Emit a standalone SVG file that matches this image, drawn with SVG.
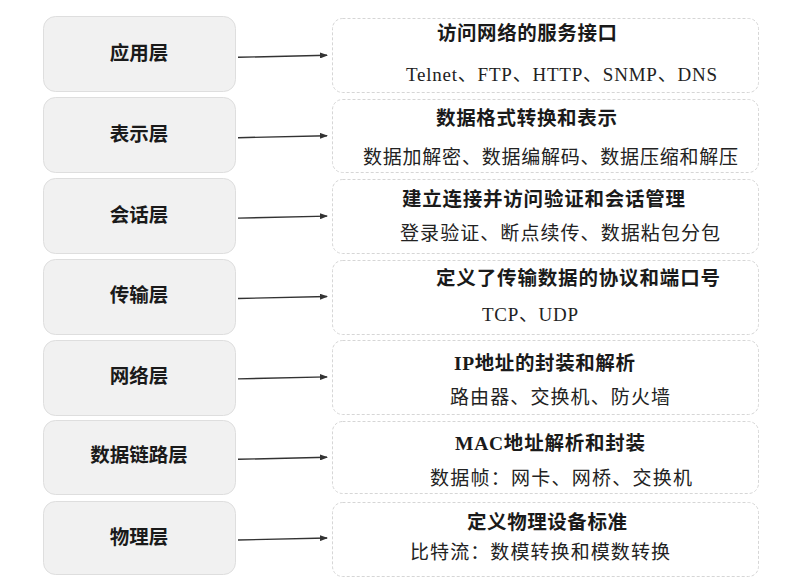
<svg xmlns="http://www.w3.org/2000/svg" width="793" height="586" viewBox="0 0 793 586">
<style>
.lb{fill:#f1f1f1;stroke:#dedede;stroke-width:1}
.rb{fill:#ffffff;stroke:#d6d6d6;stroke-width:1;stroke-dasharray:3 2}
.lt{font-family:"Liberation Sans","Noto Sans CJK SC",sans-serif;font-weight:bold;font-size:19.5px;fill:#1a1a1a;text-anchor:middle}
.tt{font-family:"Liberation Serif","Noto Sans CJK SC",serif;font-weight:bold;font-size:19.5px;fill:#1a1a1a}
.st{font-family:"Liberation Serif","Noto Sans CJK SC",serif;font-size:19px;fill:#222}
.ar{stroke:#333;stroke-width:1.4;fill:none}
</style>
<defs>
<marker id="ah" markerWidth="8" markerHeight="6" refX="7" refY="3" orient="auto" markerUnits="userSpaceOnUse">
<path d="M0,0 L8,3 L0,6 z" fill="#333"/>
</marker>
</defs>
<rect width="793" height="586" fill="#ffffff"/>
<g id="l1"><rect class="lb" x="43.5" y="16.5" width="192" height="75" rx="12"/><text class="lt" x="139" y="60">应用层</text></g>
<g id="l2"><rect class="lb" x="43.5" y="97.5" width="192" height="75" rx="12"/><text class="lt" x="139" y="141">表示层</text></g>
<g id="l3"><rect class="lb" x="43.5" y="178.5" width="192" height="75" rx="12"/><text class="lt" x="139" y="222">会话层</text></g>
<g id="l4"><rect class="lb" x="43.5" y="259.5" width="192" height="75" rx="12"/><text class="lt" x="139" y="302">传输层</text></g>
<g id="l5"><rect class="lb" x="43.5" y="340.5" width="192" height="75" rx="12"/><text class="lt" x="139" y="383">网络层</text></g>
<g id="l6"><rect class="lb" x="43.5" y="420.5" width="192" height="74" rx="12"/><text class="lt" x="139" y="462">数据链路层</text></g>
<g id="l7"><rect class="lb" x="43.5" y="501.5" width="192" height="73" rx="12"/><text class="lt" x="139" y="544">物理层</text></g>

<g id="r1"><rect class="rb" x="332.5" y="18.5" width="426" height="74" rx="10"/>
<text class="tt" x="437" y="40" textLength="180">访问网络的服务接口</text>
<text class="st" x="406" y="81" textLength="311">Telnet、FTP、HTTP、SNMP、DNS</text></g>
<g id="r2"><rect class="rb" x="332.5" y="99.5" width="426" height="73" rx="10"/>
<text class="tt" x="436" y="125" textLength="181">数据格式转换和表示</text>
<text class="st" x="363" y="164" textLength="375">数据加解密、数据编解码、数据压缩和解压</text></g>
<g id="r3"><rect class="rb" x="332.5" y="179.5" width="426" height="74" rx="10"/>
<text class="tt" x="402" y="206" textLength="283">建立连接并访问验证和会话管理</text>
<text class="st" x="400" y="240" textLength="320">登录验证、断点续传、数据粘包分包</text></g>
<g id="r4"><rect class="rb" x="332.5" y="260.5" width="426" height="74" rx="10"/>
<text class="tt" x="436" y="285" textLength="284">定义了传输数据的协议和端口号</text>
<text class="st" x="482" y="321" textLength="96">TCP、UDP</text></g>
<g id="r5"><rect class="rb" x="332.5" y="340.5" width="426" height="74" rx="10"/>
<text class="tt" x="454" y="370" textLength="181">IP地址的封装和解析</text>
<text class="st" x="450" y="404" textLength="220">路由器、交换机、防火墙</text></g>
<g id="r6"><rect class="rb" x="332.5" y="421.5" width="426" height="72" rx="10"/>
<text class="tt" x="455" y="450" textLength="190">MAC地址解析和封装</text>
<text class="st" x="430" y="485" textLength="262">数据帧：网卡、网桥、交换机</text></g>
<g id="r7"><rect class="rb" x="332.5" y="502.5" width="426" height="74" rx="10"/>
<text class="tt" x="467" y="529" textLength="160">定义物理设备标准</text>
<text class="st" x="410" y="559" textLength="260">比特流：数模转换和模数转换</text></g>

<g id="connectors">
<line class="ar" x1="238" y1="57.3" x2="327" y2="55.3" marker-end="url(#ah)"/>
<line class="ar" x1="238" y1="137.7" x2="327" y2="135.7" marker-end="url(#ah)"/>
<line class="ar" x1="238" y1="218.1" x2="327" y2="216.1" marker-end="url(#ah)"/>
<line class="ar" x1="238" y1="298.5" x2="327" y2="296.5" marker-end="url(#ah)"/>
<line class="ar" x1="238" y1="378.9" x2="327" y2="376.9" marker-end="url(#ah)"/>
<line class="ar" x1="238" y1="459.3" x2="327" y2="457.3" marker-end="url(#ah)"/>
<line class="ar" x1="238" y1="540" x2="327" y2="538" marker-end="url(#ah)"/>
</g>
</svg>
